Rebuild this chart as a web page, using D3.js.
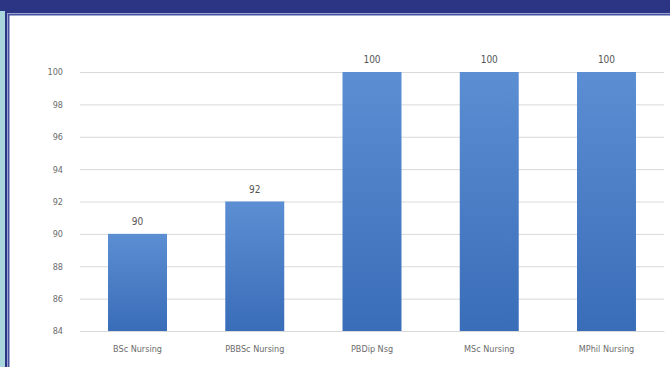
<!DOCTYPE html>
<html>
<head>
<meta charset="utf-8">
<script src="https://cdn.jsdelivr.net/npm/d3@7"></script>
<style>
  body { margin: 0; background: #fff; }
  text { font-family: "Liberation Sans Narrow", "DejaVu Sans Condensed", sans-serif; fill: #6b6b6b; }
</style>
</head>
<body>
<script>
var categories = ["BSc Nursing", "PBBSc Nursing", "PBDip Nsg", "MSc Nursing", "MPhil Nursing"];
var values = [90, 92, 100, 100, 100];
var yTicks = [84, 86, 88, 90, 92, 94, 96, 98, 100];

var svgWidth = 670;
var svgHeight = 367;

var svg = d3.select("body").append("svg")
    .attr("width", svgWidth)
    .attr("height", svgHeight);

// frame: navy band on top, pale blue strip on the left, double border line
svg.append("rect").attr("x", 0).attr("y", 0).attr("width", svgWidth).attr("height", svgHeight).attr("fill", "#fff");
svg.append("rect").attr("x", 0).attr("y", 0).attr("width", svgWidth).attr("height", 11).attr("fill", "#2b3584");
svg.append("rect").attr("x", 0).attr("y", 11).attr("width", 5).attr("height", svgHeight - 11).attr("fill", "#a9d5dd");
svg.append("rect").attr("x", 5).attr("y", 11).attr("width", svgWidth - 5).attr("height", 2).attr("fill", "#2b3584");
svg.append("rect").attr("x", 7).attr("y", 13).attr("width", svgWidth - 7).attr("height", 1).attr("fill", "#9aa3d0");
svg.append("rect").attr("x", 7).attr("y", 14).attr("width", svgWidth - 7).attr("height", 1.5).attr("fill", "#4651a0");
svg.append("rect").attr("x", 5).attr("y", 11).attr("width", 2).attr("height", svgHeight - 11).attr("fill", "#2b3584");
svg.append("rect").attr("x", 7).attr("y", 13).attr("width", 1).attr("height", svgHeight - 13).attr("fill", "#9aa3d0");
svg.append("rect").attr("x", 8).attr("y", 14).attr("width", 1.5).attr("height", svgHeight - 14).attr("fill", "#4651a0");

var margin = { top: 72, right: 6, bottom: 36, left: 80 };
var chartWidth = svgWidth - margin.left - margin.right;
var chartHeight = svgHeight - margin.top - margin.bottom;

var chartGroup = svg.append("g")
    .attr("transform", `translate(${margin.left}, ${margin.top})`);

var xScale = d3.scaleBand()
    .domain(categories)
    .range([0, chartWidth])
    .paddingInner(0.497)
    .paddingOuter(0.239);

var yScale = d3.scaleLinear()
    .domain([84, 100])
    .range([chartHeight, 0]);

// gradient for bars
var grad = svg.append("defs").append("linearGradient")
    .attr("id", "barGrad").attr("x1", 0).attr("y1", 0).attr("x2", 0).attr("y2", 1);
grad.append("stop").attr("offset", "0%").attr("stop-color", "#5b8ed2");
grad.append("stop").attr("offset", "100%").attr("stop-color", "#3a6db8");

// gridlines
chartGroup.append("g")
    .call(d3.axisLeft(yScale).tickValues(yTicks).tickSize(-chartWidth).tickFormat(""))
    .call(g => g.select(".domain").remove())
    .call(g => g.selectAll("line").attr("stroke", "#d9d9d9"));

// y labels
chartGroup.append("g")
    .call(d3.axisLeft(yScale).tickValues(yTicks).tickSize(0).tickPadding(17))
    .call(g => g.select(".domain").remove())
    .call(g => g.selectAll("text").attr("font-size", 9).style("fill", "#6b6b6b"));

chartGroup.selectAll(".bar")
    .data(values)
    .enter()
    .append("rect")
    .attr("class", "bar")
    .attr("x", (d, i) => xScale(categories[i]))
    .attr("y", d => yScale(d))
    .attr("width", xScale.bandwidth())
    .attr("height", d => chartHeight - yScale(d))
    .attr("fill", "url(#barGrad)");

chartGroup.selectAll(".val")
    .data(values)
    .enter()
    .append("text")
    .attr("class", "val")
    .attr("x", (d, i) => xScale(categories[i]) + xScale.bandwidth() / 2)
    .attr("y", d => yScale(d) - 9)
    .attr("text-anchor", "middle")
    .attr("font-size", 10)
    .style("fill", "#555")
    .text(d => d);

// x axis
chartGroup.append("g")
    .attr("transform", `translate(0,${chartHeight})`)
    .call(d3.axisBottom(xScale).tickSize(0).tickPadding(15))
    .call(g => g.select(".domain").attr("stroke", "#d9d9d9"))
    .call(g => g.selectAll("text").attr("font-size", 9).style("fill", "#6b6b6b"));
</script>
</body>
</html>
